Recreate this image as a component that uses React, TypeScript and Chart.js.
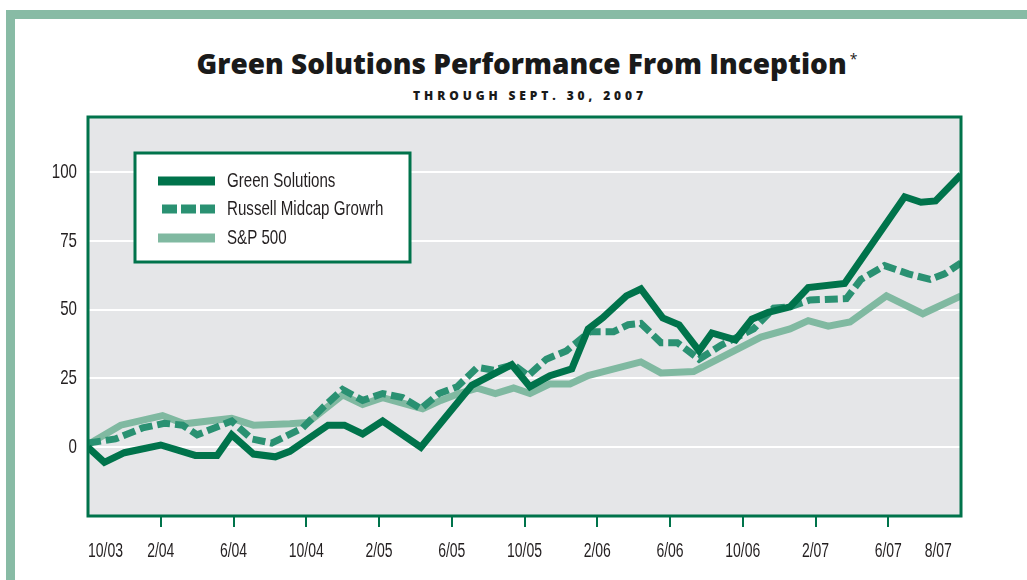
import React, { useEffect, useRef } from "react";
import { Chart, registerables } from "chart.js";

Chart.register(...registerables);

// ---- Data (x = months since 10/03, y = % return) ----
const xTickMonths = [0, 4, 8, 12, 16, 20, 24, 28, 32, 36, 40, 44, 46];
const xTickLabels = ["10/03", "2/04", "6/04", "10/04", "2/05", "6/05", "10/05", "2/06", "6/06", "10/06", "2/07", "6/07", "8/07"];
const yTickValues = [0, 25, 50, 75, 100];

const seriesNames = ["Green Solutions", "Russell Midcap Growrh", "S&P 500"];

const greenMonths = [0, 0.9, 2.0, 4.0, 5.9, 7.1, 7.9, 9.1, 10.3, 11.1, 13.2, 14.1, 15.1, 16.2, 18.3, 21.1, 23.3, 24.3, 25.4, 26.6, 27.5, 28.3, 29.6, 30.4, 31.6, 32.5, 33.6, 34.3, 35.6, 36.5, 37.4, 38.6, 39.6, 41.6, 44.9, 45.8, 46.6, 48];
const greenValues = [0, -5.5, -2, 0.8, -3, -3, 4.5, -2.5, -3.5, -1.5, 8, 8, 4.8, 9.5, 0, 22.5, 30, 22, 26, 28.5, 43, 47, 55, 57.5, 47, 44.5, 35, 41.5, 39, 46.5, 49, 51, 58, 59.5, 91, 89, 89.5, 99];

const russellMonths = [0, 1.5, 3.0, 4.2, 5.2, 6.0, 7.9, 9.0, 10.1, 11.8, 13.0, 14.0, 15.1, 16.2, 17.3, 18.3, 19.3, 20.3, 21.4, 22.3, 23.4, 24.2, 25.2, 26.3, 27.6, 28.9, 29.7, 30.4, 31.5, 32.4, 33.6, 34.8, 35.7, 36.6, 37.7, 38.6, 39.7, 41.7, 42.5, 43.8, 45.1, 46.3, 47.1, 48];
const russellValues = [1.5, 3, 7, 8.7, 8, 4.5, 9.5, 3, 1.5, 7, 15, 21, 17, 19.5, 18, 14, 19.5, 22, 29, 28, 30, 26, 32, 35, 42, 42, 44.5, 45, 38, 38, 32, 37, 40, 43, 50.5, 51, 53.5, 54, 61, 66, 63, 61, 63, 67];

const spMonths = [0, 1.8, 4.1, 5.3, 7.9, 9.1, 11.1, 12.1, 14.0, 15.1, 16.2, 18.4, 19.4, 20.4, 21.4, 22.4, 23.4, 24.3, 25.4, 26.5, 27.5, 30.4, 31.5, 33.3, 37.0, 38.6, 39.6, 40.7, 41.9, 43.9, 45.9, 48];
const spValues = [1, 8, 11.5, 8.5, 10.5, 8, 8.5, 9, 19, 15.5, 18, 14, 17, 19.5, 21.5, 19.5, 21.5, 19.5, 23, 23, 26, 31, 27, 27.5, 40, 43, 46, 44, 45.5, 55, 48.5, 55];

const COLORS = {
  green: "#00734b",
  russell: "#2a9172",
  sp: "#80b9a1",
  frame: "#88bba5",
  plotBg: "#e5e6e8",
  text: "#231f20",
};

const BASE_FONT = '"Liberation Sans", Arial, sans-serif';

const toPoints = (xs: number[], ys: number[]) => xs.map((x, i) => ({ x, y: ys[i] }));

function narrowText(ctx: CanvasRenderingContext2D, text: string, x: number, y: number, align: CanvasTextAlign, size: number, sx: number) {
  ctx.save();
  ctx.translate(x, y);
  ctx.scale(sx, 1);
  ctx.font = `${size}px ${BASE_FONT}`;
  ctx.textAlign = align;
  ctx.textBaseline = "middle";
  ctx.fillStyle = COLORS.text;
  ctx.fillText(text, 0, 0);
  ctx.restore();
}

const chartDecor = {
  id: "chartDecor",
  beforeDraw(chart: any) {
    const { ctx, chartArea: ca } = chart;
    ctx.save();
    ctx.fillStyle = COLORS.plotBg;
    ctx.fillRect(ca.left, ca.top, ca.right - ca.left, ca.bottom - ca.top);
    ctx.restore();
  },
  afterDatasetsDraw(chart: any) {
    const { ctx, chartArea: ca } = chart;
    ctx.save();
    ctx.strokeStyle = COLORS.green;
    ctx.lineWidth = 3;
    ctx.strokeRect(ca.left, ca.top, ca.right - ca.left, ca.bottom - ca.top);
    ctx.restore();
  },
  afterDraw(chart: any) {
    const { ctx, chartArea: ca } = chart;
    const xs = chart.scales.x;
    const ys = chart.scales.y;

    // x labels
    xTickMonths.forEach((m, i) => {
      const px = xs.getPixelForValue(m);
      const align: CanvasTextAlign = i === 0 || i === xTickMonths.length - 1 ? "left" : "center";
      narrowText(ctx, xTickLabels[i], px, ca.bottom + 35, align, 20, 0.7);
    });

    // y labels
    yTickValues.forEach((v) => {
      narrowText(ctx, String(v), ca.left - 11, ys.getPixelForValue(v), "right", 21, 0.72);
    });

    // legend
    ctx.save();
    const bx = ca.left + 47;
    const by = ca.top + 36;
    const bw = 275;
    const bh = 109;
    ctx.fillStyle = "#ffffff";
    ctx.fillRect(bx, by, bw, bh);
    ctx.strokeStyle = COLORS.green;
    ctx.lineWidth = 3;
    ctx.strokeRect(bx, by, bw, bh);
    ctx.restore();
    const rows = [28, 56, 85];
    chart.data.datasets.forEach((ds: any, i: number) => {
      const cy = by + rows[i];
      ctx.save();
      ctx.fillStyle = ds.borderColor;
      if (ds.borderDash && ds.borderDash.length) {
        for (let k = 0; k < 3; k++) {
          ctx.fillRect(bx + 27 + k * 19, cy - 4.5, 15, 9);
        }
      } else {
        ctx.fillRect(bx + 23, cy - 4.5, 57, 9);
      }
      ctx.restore();
      narrowText(ctx, ds.label, bx + 92, cy, "left", 21, 0.72);
    });
  },
};

export default function App() {
  const canvasRef = useRef<HTMLCanvasElement | null>(null);

  useEffect(() => {
    document.body.style.margin = "0";
    const canvas = canvasRef.current;
    if (!canvas) return;
    const chart = new Chart(canvas, {
      type: "line",
      data: {
        datasets: [
          {
            label: seriesNames[0],
            data: toPoints(greenMonths, greenValues),
            borderColor: COLORS.green,
            backgroundColor: COLORS.green,
            borderWidth: 7,
            pointRadius: 0,
            tension: 0,
            borderJoinStyle: "miter",
          },
          {
            label: seriesNames[1],
            data: toPoints(russellMonths, russellValues),
            borderColor: COLORS.russell,
            backgroundColor: COLORS.russell,
            borderWidth: 7,
            borderDash: [13, 5],
            pointRadius: 0,
            tension: 0,
            borderJoinStyle: "miter",
          },
          {
            label: seriesNames[2],
            data: toPoints(spMonths, spValues),
            borderColor: COLORS.sp,
            backgroundColor: COLORS.sp,
            borderWidth: 7,
            pointRadius: 0,
            tension: 0,
            borderJoinStyle: "miter",
          },
        ],
      },
      options: {
        animation: false,
        responsive: false,
        events: [],
        layout: { padding: { top: 117, left: 0, right: 66, bottom: 0 } },
        plugins: {
          legend: { display: false },
          tooltip: { enabled: false },
          title: { display: false },
        },
        scales: {
          x: {
            type: "linear",
            min: 0,
            max: 48,
            border: { display: false },
            afterBuildTicks: (scale: any) => {
              scale.ticks = xTickMonths.map((v) => ({ value: v }));
            },
            afterFit: (scale: any) => {
              scale.height = 64;
            },
            grid: {
              drawOnChartArea: false,
              drawTicks: true,
              tickLength: 11,
              lineWidth: 2,
              color: (ctx: any) => {
                const v = ctx.tick ? ctx.tick.value : null;
                return v === 0 || v === 46 ? "rgba(0,0,0,0)" : COLORS.green;
              },
            },
            ticks: { display: false },
          },
          y: {
            type: "linear",
            min: -25,
            max: 120,
            border: { display: false },
            afterBuildTicks: (scale: any) => {
              scale.ticks = yTickValues.map((v) => ({ value: v }));
            },
            afterFit: (scale: any) => {
              scale.width = 88;
            },
            grid: {
              color: "#ffffff",
              lineWidth: 2,
              drawTicks: false,
            },
            ticks: { display: false },
          },
        },
      },
      plugins: [chartDecor],
    } as any);
    return () => chart.destroy();
  }, []);

  return (
    <div style={{ position: "relative", width: 1027, height: 580, overflow: "hidden", background: "#ffffff" }}>
      <div
        style={{
          position: "absolute",
          left: 6,
          top: 10,
          width: 1030,
          height: 600,
          border: `9px solid ${COLORS.frame}`,
          boxSizing: "border-box",
        }}
      />
      <div
        style={{
          position: "absolute",
          left: 0,
          width: 1054,
          top: 45,
          textAlign: "center",
          fontFamily: '"Open Sans", Lato, sans-serif',
          fontWeight: 800,
          fontSize: 28,
          color: "#1a1a1a",
          lineHeight: "36px",
        }}
      >
        Green Solutions Performance From Inception
        <span style={{ fontSize: 14, fontWeight: 400, verticalAlign: "top", position: "relative", top: -4, marginLeft: 3 }}>*</span>
      </div>
      <div
        style={{
          position: "absolute",
          left: 0,
          width: 1060,
          top: 88,
          textAlign: "center",
          fontFamily: '"Open Sans", Lato, sans-serif',
          fontWeight: 800,
          fontSize: 12,
          letterSpacing: "3.9px",
          color: "#1a1a1a",
          lineHeight: "16px",
        }}
      >
        THROUGH SEPT. 30, 2007
      </div>
      <canvas ref={canvasRef} width={1027} height={580} style={{ position: "absolute", left: 0, top: 0 }} />
    </div>
  );
}
